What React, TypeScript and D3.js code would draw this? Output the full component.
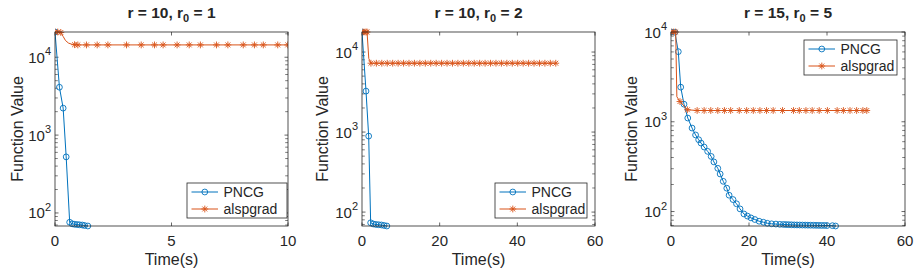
import React from 'react';
import * as d3 from 'd3';

// ---- data ----
const p1PncgTime = [0, 0.19, 0.35, 0.48, 0.63, 0.74, 0.84, 0.95, 1.05, 1.17, 1.27, 1.41];
const p1PncgVal = [21100, 4120, 2220, 525, 76, 72.5, 71.5, 71, 70.5, 70, 69, 68];
const p1AlsTime = [0, 0.12, 0.25, 0.35, 0.45, 0.58, 0.72, 0.84, 0.98, 1.35, 1.81, 2.27, 3.07, 3.7, 4.27, 4.64, 5.24, 5.76, 6.24, 6.93, 7.42, 8.08, 8.56, 8.94, 9.56, 9.99, 10.5];
const p1AlsVal = [21100, 21100, 20800, 18500, 16400, 15200, 14700, 14500, 14400, 14400, 14400, 14400, 14400, 14400, 14400, 14400, 14400, 14400, 14400, 14400, 14400, 14400, 14400, 14400, 14400, 14400, 14400];
const p1AlsNoMarker = [3, 4, 5, 6];

const p2PncgTime = [0, 1.03, 1.72, 2.23, 2.9, 3.6, 4.3, 5.0, 5.7, 6.4];
const p2PncgVal = [17800, 3250, 890, 73.5, 71, 70, 69.5, 69, 68, 67];
const p2AlsTime = [0, 0.5, 1.0, 1.3, 1.75, 2.3, 3.7, 5.1, 6.5, 7.9, 9.3, 10.7, 12.1, 13.5, 14.9, 16.3, 17.7, 19.1, 20.5, 21.9, 23.3, 24.7, 26.1, 27.5, 28.9, 30.3, 31.7, 33.1, 34.5, 35.9, 37.3, 38.7, 40.1, 41.5, 42.9, 44.3, 45.7, 47.1, 48.5, 49.9];
const p2AlsVal = [17800, 17800, 17800, 17800, 8300, 7250, 7250, 7250, 7250, 7250, 7250, 7250, 7250, 7250, 7250, 7250, 7250, 7250, 7250, 7250, 7250, 7250, 7250, 7250, 7250, 7250, 7250, 7250, 7250, 7250, 7250, 7250, 7250, 7250, 7250, 7250, 7250, 7250, 7250, 7250];
const p2AlsNoMarker = [4];

const p3PncgTime = [0, 1.0, 1.87, 2.49, 3.33, 4.3, 5.4, 6.3, 7.1, 7.7, 8.5, 9.4, 10.3, 11.0, 12.0, 12.6, 13.4, 14.3, 14.9, 15.9, 16.8, 17.7, 18.7, 19.6, 20.5, 21.5, 22.6, 23.7, 24.7, 25.8, 26.9, 27.9, 28.8, 29.5, 30.2, 30.9, 31.6, 32.3, 33.0, 33.7, 34.4, 35.1, 35.8, 36.5, 37.2, 37.9, 38.6, 39.3, 40.0, 41.4, 42.2];
const p3PncgVal = [10000, 9950, 6040, 2430, 1570, 1100, 851, 713, 631, 579, 523, 468, 411, 357, 303, 262, 217, 182, 152, 136, 122, 107, 94, 89, 85, 81.5, 78, 76, 74, 73, 72.5, 72, 71.8, 71.6, 71.4, 71.2, 71, 70.9, 70.8, 70.7, 70.6, 70.5, 70.4, 70.3, 70.2, 70.1, 70, 70, 69.8, 69.6, 69];
const p3AlsTime = [0, 0.6, 1.2, 1.5, 2.3, 4.2, 6.7, 8.5, 10.2, 12.0, 13.7, 15.3, 17.5, 19.4, 21.1, 22.8, 24.5, 26.2, 28.6, 31.4, 32.9, 34.6, 36.2, 38.0, 40.1, 42.6, 44.2, 45.9, 47.6, 49.2, 50.2];
const p3AlsVal = [10000, 10000, 10000, 1900, 1680, 1360, 1335, 1335, 1335, 1335, 1335, 1335, 1335, 1335, 1335, 1335, 1335, 1335, 1335, 1335, 1335, 1335, 1335, 1335, 1335, 1335, 1335, 1335, 1335, 1335, 1335];
const p3AlsNoMarker = [3];

const titles = [['10', '1'], ['10', '2'], ['15', '5']];
const xDomains: [number, number][] = [[0, 10], [0, 60], [0, 60]];
const xTicks = [[0, 5, 10], [0, 20, 40, 60], [0, 20, 40, 60]];
const yTickExp = [2, 3, 4];
const seriesNames = ['PNCG', 'alspgrad'];

const BLUE = '#0072BD';
const ORANGE = '#D95319';
const INK = '#262626';
const FONT = '"Liberation Sans", Arial, Helvetica, sans-serif';

type Series = { t: number[]; v: number[]; noMarker: number[] };

const panels = [
  { pncg: { t: p1PncgTime, v: p1PncgVal, noMarker: [] }, als: { t: p1AlsTime, v: p1AlsVal, noMarker: p1AlsNoMarker },
    box: { x0: 55, x1: 288 }, legend: { x: 187, y: 183, w: 100 }, labelOff: 32 },
  { pncg: { t: p2PncgTime, v: p2PncgVal, noMarker: [] }, als: { t: p2AlsTime, v: p2AlsVal, noMarker: p2AlsNoMarker },
    box: { x0: 362, x1: 595 }, legend: { x: 495, y: 183, w: 92 }, labelOff: 34 },
  { pncg: { t: p3PncgTime, v: p3PncgVal, noMarker: [] }, als: { t: p3AlsTime, v: p3AlsVal, noMarker: p3AlsNoMarker },
    box: { x0: 671, x1: 905 }, legend: { x: 804, y: 40, w: 93 }, labelOff: 34 },
];

const Y0 = 32;
const Y1 = 226;
const TICK = 3.5;

const Circle = ({ x, y }: { x: number; y: number }) => (
  <circle cx={x} cy={y} r={2.9} fill="none" stroke={BLUE} strokeWidth={0.9} />
);

const Star = ({ x, y }: { x: number; y: number }) => {
  const s = 3.4;
  const d = s * 0.72;
  return (
    <path
      d={`M${x - s},${y}H${x + s}M${x},${y - s}V${y + s}M${x - d},${y - d}L${x + d},${y + d}M${x - d},${y + d}L${x + d},${y - d}`}
      stroke={ORANGE}
      strokeWidth={0.9}
      fill="none"
    />
  );
};

const Panel = ({ idx }: { idx: number }) => {
  const p = panels[idx];
  const { x0, x1 } = p.box;
  const all = [...p.pncg.v, ...p.als.v];
  const x = d3.scaleLinear().domain(xDomains[idx]).range([x0, x1]);
  const y = d3.scaleLog().domain([d3.min(all) as number, d3.max(all) as number]).range([Y1, Y0]);
  const line = (s: Series) =>
    d3.line<number>().x((_, i) => x(s.t[i])).y((d) => y(d))(s.v) || '';

  const [lo, hi] = y.domain();
  const minor: number[] = [];
  for (let k = Math.floor(Math.log10(lo)); k <= Math.ceil(Math.log10(hi)); k++) {
    for (let m = 2; m <= 9; m++) {
      const v = m * Math.pow(10, k);
      if (v >= lo && v <= hi) minor.push(v);
    }
  }
  const major = yTickExp.map((e) => Math.pow(10, e)).filter((v) => v >= lo * 0.999 && v <= hi * 1.001);
  const clipId = `clip${idx}`;
  const lg = p.legend;
  const cx = (x0 + x1) / 2;

  return (
    <g fontFamily={FONT} fill={INK}>
      <defs>
        <clipPath id={clipId}>
          <rect x={x0} y={Y0 - 4} width={x1 - x0} height={Y1 - Y0 + 8} />
        </clipPath>
      </defs>
      <rect x={x0} y={Y0} width={x1 - x0} height={Y1 - Y0} fill="#fff" />
      {/* title */}
      <text x={cx} y={17.5} textAnchor="middle" fontWeight="bold" fontSize={15.5}>
        r = {titles[idx][0]}, r<tspan dy={4} fontSize={11}>0</tspan>
        <tspan dy={-4}> = {titles[idx][1]}</tspan>
      </text>
      {/* x ticks */}
      {xTicks[idx].map((t) => (
        <g key={t}>
          <line x1={x(t)} x2={x(t)} y1={Y1} y2={Y1 - TICK} stroke={INK} strokeWidth={0.7} />
          <line x1={x(t)} x2={x(t)} y1={Y0} y2={Y0 + TICK} stroke={INK} strokeWidth={0.7} />
          <text x={x(t)} y={245.5} textAnchor="middle" fontSize={15}>{t}</text>
        </g>
      ))}
      {/* y ticks */}
      {minor.map((v) => (
        <g key={v}>
          <line x1={x0} x2={x0 + TICK * 0.8} y1={y(v)} y2={y(v)} stroke={INK} strokeWidth={0.6} />
          <line x1={x1} x2={x1 - TICK * 0.8} y1={y(v)} y2={y(v)} stroke={INK} strokeWidth={0.6} />
        </g>
      ))}
      {major.map((v) => (
        <g key={v}>
          <line x1={x0} x2={x0 + TICK} y1={y(v)} y2={y(v)} stroke={INK} strokeWidth={0.7} />
          <line x1={x1} x2={x1 - TICK} y1={y(v)} y2={y(v)} stroke={INK} strokeWidth={0.7} />
          <text x={x0 - 4} y={y(v) + 5.5} textAnchor="end" fontSize={15}>
            10<tspan dy={-7.5} fontSize={11}>{Math.round(Math.log10(v))}</tspan>
          </text>
        </g>
      ))}
      {/* axis labels */}
      <text x={cx} y={264.5} textAnchor="middle" fontSize={16}>Time(s)</text>
      <text transform={`translate(${x0 - p.labelOff},${(Y0 + Y1) / 2}) rotate(-90)`} textAnchor="middle" fontSize={16}>
        Function Value
      </text>
      {/* series */}
      <g clipPath={`url(#${clipId})`}>
        <path d={line(p.pncg)} fill="none" stroke={BLUE} strokeWidth={1} />
        {p.pncg.v.map((v, i) =>
          p.pncg.noMarker.includes(i) ? null : <Circle key={i} x={x(p.pncg.t[i])} y={y(v)} />
        )}
        <path d={line(p.als)} fill="none" stroke={ORANGE} strokeWidth={1} />
        {p.als.v.map((v, i) =>
          p.als.noMarker.includes(i) ? null : <Star key={i} x={x(p.als.t[i])} y={y(v)} />
        )}
      </g>
      {/* box */}
      <rect x={x0} y={Y0} width={x1 - x0} height={Y1 - Y0} fill="none" stroke={INK} strokeWidth={0.8} />
      {/* legend */}
      <rect x={lg.x} y={lg.y} width={lg.w} height={35} fill="#fff" stroke={INK} strokeWidth={0.8} />
      {seriesNames.map((name, i) => {
        const ry = lg.y + 9 + i * 17;
        return (
          <g key={name}>
            <line x1={lg.x + 4.5} x2={lg.x + 31} y1={ry} y2={ry} stroke={i === 0 ? BLUE : ORANGE} strokeWidth={1} />
            {i === 0 ? <Circle x={lg.x + 17.8} y={ry} /> : <Star x={lg.x + 17.8} y={ry} />}
            <text x={lg.x + 36.5} y={ry + 5} fontSize={14}>{name}</text>
          </g>
        );
      })}
    </g>
  );
};

export default function App() {
  return (
    <svg width={922} height={271} style={{ position: 'absolute', left: 0, top: 0, background: '#fff' }}>
      <rect width={922} height={271} fill="#fff" />
      {panels.map((_, i) => (
        <Panel key={i} idx={i} />
      ))}
    </svg>
  );
}
